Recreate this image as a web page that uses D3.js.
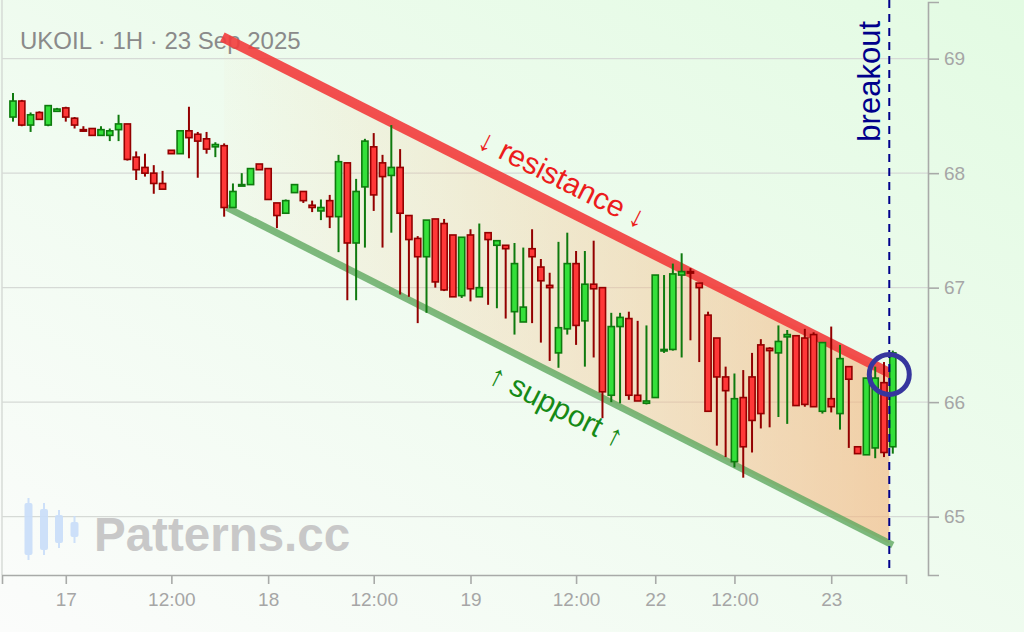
<!DOCTYPE html>
<html><head><meta charset="utf-8">
<script src="https://cdn.jsdelivr.net/npm/d3@7"></script>
<style>html,body{margin:0;padding:0;background:#fff}svg{display:block}</style>
</head><body>
<svg id="c" width="1024" height="632"></svg>
<script>
// ---- data (UKOIL 1H candles) ----
const opens = [68.49,68.63,68.42,68.53,68.42,68.54,68.57,68.48,68.38,68.39, 68.33,68.33,68.38,68.43,68.14,68.05,68.00,67.91,68.20,68.17, 68.37,68.34,68.30,68.23,68.24,67.70,67.89,67.90,68.08,68.04, 67.74,67.65,67.83,67.84,67.72,67.67,67.76,67.62,68.09,67.39, 67.88,68.23,68.09,67.98,68.05,67.63,67.43,67.27,67.60,67.56, 67.46,66.93,67.46,66.92,67.48,67.37,67.37,66.79,66.70,67.34, 67.18,67.02,66.43,66.64,67.21,66.71,67.03,67.00,66.06,66.66, 66.73,66.06,65.99,66.04,66.45,66.46,67.11,67.14,67.04,66.76, 66.56,66.22,65.48,66.04,66.22,66.50,66.47,66.43,66.57,66.58, 66.56,66.59,65.92,66.03,65.90,66.31,65.61,65.54,65.60,66.17, 65.61];
const highs = [68.70,68.64,68.53,68.54,68.59,68.57,68.58,68.49,68.41,68.39, 68.41,68.39,68.51,68.43,68.19,68.17,68.07,68.02,68.20,68.37, 68.58,68.36,68.36,68.27,68.26,67.91,68.00,68.04,68.08,68.04, 67.74,67.77,67.90,67.84,67.76,67.77,67.81,68.16,68.09,67.95, 68.30,68.35,68.16,68.42,68.21,67.63,67.45,67.59,67.60,67.60, 67.46,67.44,67.51,67.56,67.48,67.41,67.37,67.39,67.35,67.51, 67.25,67.13,67.40,67.48,67.32,67.32,67.41,67.00,66.78,66.78, 66.79,66.71,66.67,67.11,67.11,67.21,67.30,67.17,67.04,66.79, 66.56,66.31,66.25,66.28,66.43,66.55,66.48,66.67,66.63,66.58, 66.64,66.61,66.52,66.66,66.50,66.31,65.61,66.21,66.31,66.35, 66.45];
const lows = [68.45,68.41,68.36,68.47,68.41,68.54,68.45,68.39,68.36,68.33, 68.33,68.28,68.28,68.11,67.94,67.97,67.82,67.86,68.17,68.17, 68.13,67.96,68.17,68.14,67.62,67.70,67.89,67.90,68.03,67.77, 67.52,67.65,67.83,67.74,67.66,67.59,67.52,67.31,66.89,66.89, 67.35,67.67,67.35,67.48,66.94,66.92,66.69,66.78,67.00,66.97, 66.92,66.91,66.88,66.92,66.85,66.82,66.73,66.59,66.70,66.69, 66.52,66.36,66.30,66.59,66.50,66.31,66.39,65.86,66.00,65.99, 66.02,66.01,65.98,66.04,66.43,66.45,66.39,66.54,66.35,65.92, 65.62,65.52,65.43,65.34,65.56,65.77,65.78,65.87,65.81,65.97, 65.96,65.96,65.90,65.91,65.76,65.60,65.55,65.54,65.51,65.52, 65.55];
const closes = [68.63,68.42,68.51,68.47,68.59,68.56,68.49,68.42,68.37,68.33, 68.38,68.37,68.43,68.12,68.03,68.00,67.91,67.86,68.17,68.37, 68.31,68.28,68.21,68.25,67.70,67.84,67.90,68.04,68.03,67.77, 67.63,67.76,67.90,67.76,67.70,67.70,67.62,68.10,67.39,67.84, 68.28,67.81,67.97,68.05,67.65,67.42,67.27,67.59,67.05,66.98, 66.92,67.44,66.99,67.00,67.42,67.41,67.34,67.21,66.83,67.27, 67.06,67.00,66.65,67.21,66.67,67.03,66.99,66.09,66.66,66.74, 66.06,66.01,66.01,67.11,66.46,67.12,67.14,67.13,67.00,65.92, 66.22,66.10,66.03,65.61,65.84,65.90,66.45,66.53,66.59,65.97, 65.98,65.96,66.52,65.96,66.38,66.20,65.55,66.21,66.21,65.56, 66.43];

const xTickIndex  = [6, 18, 29, 41, 52, 64, 73, 82, 93];
const xTickLabels = ["17","12:00","18","12:00","19","12:00","22","12:00","23"];
const yTicks = [65, 66, 67, 68, 69];

// channel lines: [candle index, price]
const resistanceLine = [[23.8, 69.19], [100, 66.24]];
const supportLine    = [[24.3, 67.70], [100, 64.75]];
const breakoutIndex = 99.6;
const titleText = "UKOIL · 1H · 23 Sep 2025";

// ---- drawing ----
const svg = d3.select("#c");
const FONT = "'Liberation Sans', Arial, Helvetica, sans-serif";
const x = d3.scaleLinear().domain([-1.25, 101.5]).range([2, 906]);
const y = d3.scaleLinear().domain([64.49, 69.495]).range([575, 2]);
const step = x(1) - x(0);

const defs = svg.append("defs");
const bg = defs.append("linearGradient").attr("id","bg").attr("x1",0).attr("y1",1).attr("x2",1).attr("y2",0);
bg.append("stop").attr("offset",0).attr("stop-color","#fbfcfb");
bg.append("stop").attr("offset",1).attr("stop-color","#e3fbe3");
const fg = defs.append("linearGradient").attr("id","chan").attr("gradientUnits","userSpaceOnUse")
  .attr("x1", x(24)).attr("y1", 0).attr("x2", x(breakoutIndex)).attr("y2", 0);
fg.append("stop").attr("offset",0).attr("stop-color","#f7c89a").attr("stop-opacity",0.04);
fg.append("stop").attr("offset",1).attr("stop-color","#f3b47c").attr("stop-opacity",0.62);

svg.append("rect").attr("width",1024).attr("height",632).attr("fill","url(#bg)");

// left frame
svg.append("line").attr("x1",2).attr("x2",2).attr("y1",0).attr("y2",575)
  .attr("stroke","#cfd3cf").attr("stroke-width",1.2);

// gridlines
svg.append("g").selectAll("line").data(yTicks).join("line")
  .attr("x1",2).attr("x2",928).attr("y1",d=>y(d)).attr("y2",d=>y(d))
  .attr("stroke","#d6dad6").attr("stroke-width",1.3);

// title
svg.append("text").attr("x",20).attr("y",49).text(titleText)
  .attr("font-family",FONT).attr("font-size",24).attr("fill","#8a8a8a");

// watermark
const wmCandles = [[28.5,498,560,503,555],[44,503,555,509,550],[59,510,548,515,543],[74.5,516,543,522,537]];
const wm = svg.append("g").attr("opacity",0.9);
wmCandles.forEach(c=>{
  wm.append("line").attr("x1",c[0]).attr("x2",c[0]).attr("y1",c[1]).attr("y2",c[2]).attr("stroke","#c9defa").attr("stroke-width",2);
  wm.append("rect").attr("x",c[0]-4).attr("y",c[3]).attr("width",8).attr("height",c[4]-c[3]).attr("rx",2).attr("fill","#c9defa");
});
svg.append("text").attr("x",94).attr("y",551).text("Patterns.cc")
  .attr("font-family",FONT).attr("font-weight","bold").attr("font-size",47.5).attr("fill","#c8c8c8");

// channel fill
function lineAt(l, i){ const [a,b]=l; return a[1] + (b[1]-a[1])*(i-a[0])/(b[0]-a[0]); }
const fillIdx = [24, breakoutIndex];
svg.append("path")
  .attr("d", d3.area().x(d=>x(d)).y0(d=>y(lineAt(supportLine,d))).y1(d=>y(lineAt(resistanceLine,d)))(fillIdx))
  .attr("fill","url(#chan)");

// trend lines
const ln = d3.line().x(d=>x(d[0])).y(d=>y(d[1]));
svg.append("path").attr("d", ln(supportLine)).attr("stroke","#5fa85f").attr("stroke-opacity",0.8)
  .attr("stroke-width",7).attr("fill","none");
svg.append("path").attr("d", ln(resistanceLine)).attr("stroke","#f23c3c").attr("stroke-opacity",0.9)
  .attr("stroke-width",10).attr("fill","none");

// axes
const xAxis = svg.append("g").attr("transform","translate(0,575)")
  .call(d3.axisBottom(x).tickValues(xTickIndex).tickFormat((d,i)=>xTickLabels[i]).tickSize(9).tickSizeOuter(9).tickPadding(9));
const yAxis = svg.append("g").attr("transform","translate(928,0)")
  .call(d3.axisRight(y).tickValues(yTicks).tickFormat(d3.format("d")).tickSize(11).tickSizeOuter(11).tickPadding(5));
[xAxis,yAxis].forEach(g=>{
  g.selectAll("path,line").attr("stroke","#a8aaa8").attr("stroke-width",1.6);
  g.selectAll("text").attr("font-family",FONT).attr("font-size",19).attr("fill","#a6a6a6");
});

// candles
const data = opens.map((o,i)=>({i,o,h:highs[i],l:lows[i],c:closes[i]}));
const bw = step*0.7;
const cg = svg.append("g");
const isUp = d=>d.c>=d.o;
cg.selectAll("line").data(data).join("line")
  .attr("x1",d=>x(d.i)).attr("x2",d=>x(d.i)).attr("y1",d=>y(d.h)).attr("y2",d=>y(d.l))
  .attr("stroke",d=>isUp(d)?"#0e7a0e":"#930000").attr("stroke-width",2);
cg.selectAll("rect").data(data).join("rect")
  .attr("x",d=>x(d.i)-bw/2).attr("width",bw)
  .attr("y",d=>y(Math.max(d.o,d.c)))
  .attr("height",d=>Math.max(1.5, Math.abs(y(d.o)-y(d.c))))
  .attr("fill",d=>isUp(d)?"#34e03a":"#ff3838")
  .attr("stroke",d=>isUp(d)?"#0e7a0e":"#930000").attr("stroke-width",1.6);

// labels along the channel
function px(l){ return l.map(p=>[x(p[0]), y(p[1])]); }
function angleOf(l){ const p=px(l); return Math.atan2(p[1][1]-p[0][1], p[1][0]-p[0][0])*180/Math.PI; }
function label(l, idx, txt, dy, color){
  const cx = x(idx), cy = y(lineAt(l, idx));
  svg.append("text").attr("transform",`translate(${cx},${cy}) rotate(${angleOf(l)})`)
    .attr("y",dy).attr("text-anchor","middle").text(txt)
    .attr("font-family",FONT).attr("font-size",30).attr("fill",color);
}
label(resistanceLine, 61.1, "↓ resistance ↓", -16, "#ec1c1c");
label(supportLine, 63.2, "↑ support ↑", 38, "#168a16");

// breakout marker
svg.append("line").attr("x1",x(breakoutIndex)).attr("x2",x(breakoutIndex)).attr("y1",0).attr("y2",572)
  .attr("stroke","#00008b").attr("stroke-width",2).attr("stroke-dasharray","8,6");
svg.append("text").attr("transform",`translate(${x(breakoutIndex)-9},21) rotate(-90)`)
  .attr("text-anchor","end").text("breakout")
  .attr("font-family",FONT).attr("font-size",31).attr("fill","#00008b");
svg.append("circle").attr("cx",x(breakoutIndex)).attr("cy",y(lineAt(resistanceLine,breakoutIndex))+1.5).attr("r",20)
  .attr("fill","none").attr("stroke","#36369e").attr("stroke-width",5);
</script>
</body></html>
